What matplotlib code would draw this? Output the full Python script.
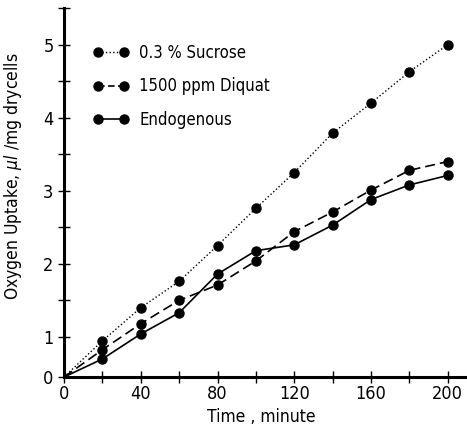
import matplotlib.pyplot as plt
import numpy as np
from matplotlib.lines import Line2D

plt.rcParams['font.family'] = ['DejaVu Sans']
plt.rcParams['font.stretch'] = 'condensed'

# Oxygen uptake over time
time_min = [0, 20, 40, 60, 80, 100, 120, 140, 160, 180, 200]
sucrose = [0, 0.90, 1.40, 1.76, 2.25, 2.76, 3.25, 3.79, 4.20, 4.63, 5.00]
diquat = [0, 0.68, 1.18, 1.50, 1.71, 2.04, 2.44, 2.71, 3.01, 3.28, 3.40]
endogenous = [0, 0.45, 1.04, 1.33, 1.86, 2.18, 2.26, 2.53, 2.88, 3.08, 3.21]
labels = ['0.3 % Sucrose', '1500 ppm Diquat', 'Endogenous']


# the original axis squeezes the 0-1 interval
def fwd(y):
    y = np.asarray(y, dtype=float)
    return np.where(y < 1, 0.55 * y, y - 0.45)


def inv(v):
    v = np.asarray(v, dtype=float)
    return np.where(v < 0.55, v / 0.55, v + 0.45)


fig = plt.figure(figsize=(4.67, 4.28), dpi=100)
ax = fig.add_axes([0.137, 0.119, 0.863, 0.862])
ax.set_yscale('function', functions=(fwd, inv))

ms = 6.5
ax.plot(time_min, sucrose, ':', color='black', lw=1.0, marker='o', ms=ms)
ax.plot(time_min, diquat, color='black', lw=1.2, dashes=(6, 3), marker='o', ms=ms)
ax.plot(time_min, endogenous, '-', color='black', lw=1.2, marker='o', ms=ms)
# no marker at the origin
for ln in ax.lines:
    ln.set_markevery(list(range(1, len(time_min))))

ax.set_xlim(0, 210)
ax.set_ylim(0, 5.5)
ax.set_xticks([0, 40, 80, 120, 160, 200])
ax.set_xticks([20, 60, 100, 140, 180], minor=True)
ax.set_yticks([0, 1, 2, 3, 4, 5])
ax.set_yticks([1.5, 2.5, 3.5, 4.5, 5.5], minor=True)
ax.yaxis.set_minor_formatter(plt.NullFormatter())
ax.set_yticklabels(['0', '1', '2', '3', '4', '5'])

for s in ['top', 'right']:
    ax.spines[s].set_visible(False)
for s in ['left', 'bottom']:
    ax.spines[s].set_linewidth(2.2)
ax.tick_params(which='both', direction='inout', length=8, width=1.0, labelsize=13)
ax.tick_params(axis='x', pad=2)

ax.set_xlabel('Time , minute', fontsize=12.5)
ax.set_ylabel(r'Oxygen Uptake, $\mu l$ /mg drycells', fontsize=12.5)
ax.xaxis.set_label_coords(0.49, -0.085)
ax.yaxis.set_label_coords(-0.10, 0.545)

handles = [
    Line2D([], [], color='black', ls=':', lw=1.0, marker='o', ms=ms),
    Line2D([], [], color='black', lw=1.2, dashes=(4, 2), marker='o', ms=ms),
    Line2D([], [], color='black', ls='-', lw=1.2, marker='o', ms=ms),
]
ax.legend(handles, labels, loc='upper left', bbox_to_anchor=(0.055, 0.922),
          frameon=False, numpoints=2, handlelength=2.2, handletextpad=0.6,
          labelspacing=0.95, fontsize=12, borderaxespad=0)

fig.savefig('out.png', dpi=100)
